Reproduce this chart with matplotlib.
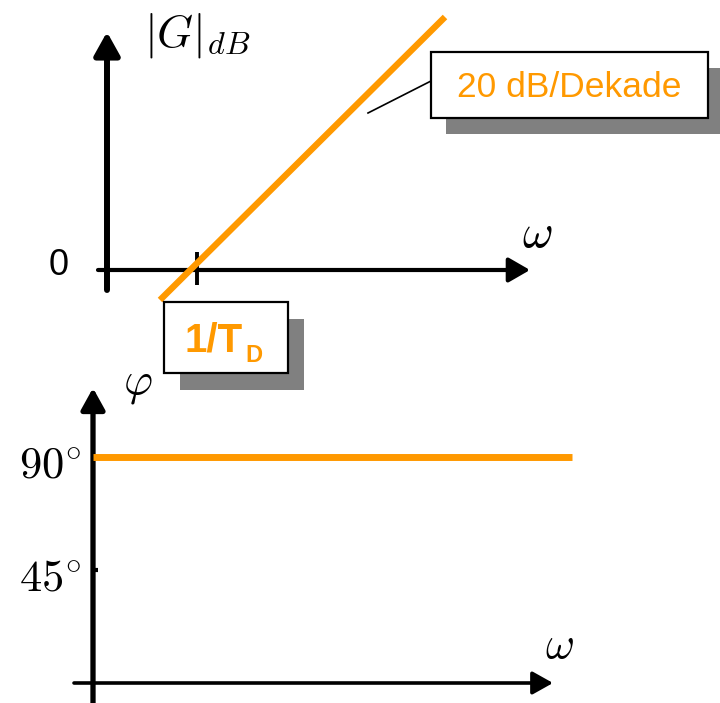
import matplotlib
matplotlib.use("Agg")
import matplotlib.pyplot as plt
from matplotlib.patches import Rectangle
from matplotlib.lines import Line2D

plt.rcParams['mathtext.fontset'] = 'cm'

# ---- data (schematic Bode diagram of a D element) ----
# magnitude asymptote: x = log10(omega*T_D), y = |G| in dB
mag_logw = [-0.37, 2.48]
mag_db = [-6.0, 50.6]
# phase: constant 90 deg
phase_logw = [0.0, 4.79]
phase_deg = [90, 90]
phase_ticks = [45, 90]
phase_ticklabels = [r'$45^{\circ}$', r'$90^{\circ}$']
mag_zero_label = '0'
corner_label = '1/T'
corner_sub = 'D'
slope_label = '20 dB/Dekade'

ORANGE = '#FF9900'
W, H = 720, 703
fig = plt.figure(figsize=(W / 100, H / 100), dpi=100)
fig.patch.set_facecolor('white')

def fx(px):
    return px / W

def fy(py):
    return 1 - py / H

# --- magnitude panel (pixel layout: u=0 at x=197, 1 decade=100px; 0 dB at y=270, 5px/dB)
ax_m = fig.add_axes([0, 0, 1, 1])
ax_m.set_xlim((0 - 197) / 100, (W - 197) / 100)
ax_m.set_ylim((270 - H) / 5, 270 / 5)
ax_m.axis('off')

def arrow(ax, start, tip, lw, hl, hw):
    ax.annotate('', xy=tip, xytext=start,
                arrowprops=dict(arrowstyle=f'-|>,head_length={hl},head_width={hw}',
                                lw=lw, color='black', shrinkA=0, shrinkB=0,
                                mutation_scale=10))

arrow(ax_m, (-0.90, -4.0), (-0.90, 47.6), 4.3, 1.4, 0.78)
arrow(ax_m, (-0.99, 0), (3.33, 0), 3.0, 1.3, 0.75)
ax_m.plot([-0.005, -0.005], [3.6, -3.0], color='black', lw=2.8, solid_capstyle='butt')
ax_m.plot(mag_logw, mag_db, color=ORANGE, lw=4.6, solid_capstyle='butt', zorder=5)

# --- phase panel (u=0 at x=93, 100px/unit; 0 deg at y=683, 2.511 px/deg)
ax_p = fig.add_axes([0, 0, 1, 1])
ax_p.patch.set_alpha(0)
ax_p.set_xlim((0 - 93) / 100, (W - 93) / 100)
k = 2.511
ax_p.set_ylim((683 - H) / k, 683 / k)
ax_p.axis('off')
arrow(ax_p, (0, (683 - 703) / k), (0, (683 - 388) / k), 3.8, 1.3, 0.72)
arrow(ax_p, (-0.19, 0), (4.60, 0), 2.6, 1.25, 0.7)
for t, lab in zip(phase_ticks, phase_ticklabels):
    ax_p.plot([-0.02, 0.05], [t, t], color='black', lw=3.0, solid_capstyle='butt')
    ax_p.text(-0.12, t - 3.5, lab, ha='right', va='center', fontsize=32)
ax_p.plot(phase_logw, phase_deg, color=ORANGE, lw=5.0, solid_capstyle='butt', zorder=5)

# --- labels
fig.text(fx(144), fy(46), r'$|G|_{dB}$', fontsize=33, ha='left', va='baseline')
fig.text(fx(537), fy(247), r'$\omega$', fontsize=34, ha='center', va='baseline')
fig.text(fx(559), fy(658), r'$\omega$', fontsize=32, ha='center', va='baseline')
fig.text(fx(138), fy(394), r'$\varphi$', fontsize=32, ha='center', va='baseline')
fig.text(fx(59), fy(275), mag_zero_label, fontsize=26, ha='center', va='baseline',
         family='Liberation Sans')

# --- boxes with shadow
def shadow_box(x0, y0, x1, y1, dx, dy):
    fig.patches.append(Rectangle((fx(x0 + dx), fy(y1 + dy)), fx(x1 - x0), (y1 - y0) / H,
                                 transform=fig.transFigure, facecolor='#808080',
                                 edgecolor='none', zorder=8))
    fig.patches.append(Rectangle((fx(x0), fy(y1)), fx(x1 - x0), (y1 - y0) / H,
                                 transform=fig.transFigure, facecolor='white',
                                 edgecolor='black', lw=1.6, zorder=9))

shadow_box(431, 52, 708, 118, 15, 16)
fig.lines.append(Line2D([fx(431), fx(368)], [fy(81), fy(113)], transform=fig.transFigure,
                        color='black', lw=1.2, zorder=9))
fig.text(fx(569), fy(97), slope_label, fontsize=25.5, color=ORANGE, ha='center',
         va='baseline', family='Liberation Sans', zorder=10)

shadow_box(164, 302, 288, 373, 16, 17)
fig.text(fx(185), fy(352), corner_label, fontsize=29, color=ORANGE, ha='left',
         va='baseline', family='Liberation Sans', weight='bold', zorder=10)
fig.text(fx(245), fy(362), corner_sub, fontsize=17, color=ORANGE, ha='left',
         va='baseline', family='Liberation Sans', weight='bold', zorder=10)

fig.savefig('out.png', dpi=100)
